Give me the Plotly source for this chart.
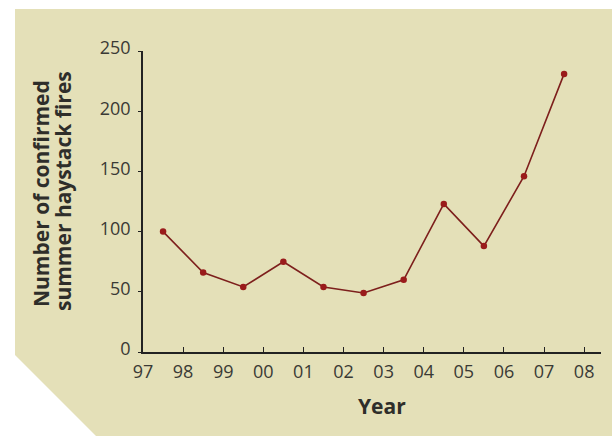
import plotly.graph_objects as go

years = [97.5, 98.5, 99.5, 100.5, 101.5, 102.5, 103.5, 104.5, 105.5, 106.5, 107.5]
fires = [100, 66, 54, 75, 54, 49, 60, 123, 88, 146, 231]
tick_vals = [97, 98, 99, 100, 101, 102, 103, 104, 105, 106, 107, 108]
tick_text = ["97", "98", "99", "00", "01", "02", "03", "04", "05", "06", "07", "08"]
y_ticks = [0, 50, 100, 150, 200, 250]
y_title = ["Number of confirmed", "summer haystack fires"]
x_title = "Year"

W, H = 612, 436
L, R, T, B = 143, 11, 51, 84
pw, ph = W - L - R, H - T - B

def px(x):
    return (x - L) / pw

def py(y):
    return (H - B - y) / ph

panel = [(15, 9), (612, 9), (612, 436), (96, 436), (15, 355)]
path = "M " + " L ".join(f"{px(a):.5f},{py(b):.5f}" for a, b in panel) + " Z"

title_font = dict(family="Open Sans", size=21, color="#2e2e2a")

fig = go.Figure()
fig.add_trace(go.Scatter(
    x=years, y=fires, mode="lines+markers",
    line=dict(color="#7d1f1c", width=1.6),
    marker=dict(color="#9a1b1b", size=6.5),
    showlegend=False, cliponaxis=False,
))

annotations = [
    dict(text=f"<b>{y_title[0]}</b>", xref="paper", yref="paper",
         x=px(41), y=py(194), textangle=-90, showarrow=False,
         xanchor="center", yanchor="middle", font=title_font),
    dict(text=f"<b>{y_title[1]}</b>", xref="paper", yref="paper",
         x=px(62.5), y=py(191.5), textangle=-90, showarrow=False,
         xanchor="center", yanchor="middle", font=title_font),
    dict(text=f"<b>{x_title}</b>", xref="paper", yref="paper",
         x=px(382), y=py(405.5), showarrow=False,
         xanchor="center", yanchor="middle", font=title_font),
]

fig.update_layout(
    width=W, height=H,
    margin=dict(l=L, r=R, t=T, b=B),
    paper_bgcolor="white",
    plot_bgcolor="rgba(0,0,0,0)",
    font=dict(family="Open Sans", color="#3a3a35"),
    shapes=[dict(type="path", path=path, xref="paper", yref="paper",
                 fillcolor="#e4e0b8", line=dict(width=0), layer="below")],
    annotations=annotations,
    xaxis=dict(
        range=[97, 108.42], tickvals=tick_vals, ticktext=tick_text,
        showgrid=False, zeroline=False, showline=True, linecolor="#222",
        linewidth=1.5, ticks="inside", ticklen=5, tickwidth=1.3, tickcolor="#222",
        tickfont=dict(size=18, color="#3a3a35"),
        ticklabelstandoff=3,
    ),
    yaxis=dict(
        range=[0, 250], tickvals=y_ticks,
        showgrid=False, zeroline=False, showline=True, linecolor="#222",
        linewidth=1.5, ticks="outside", ticklen=3, tickwidth=1.3, tickcolor="#222",
        tickfont=dict(size=18, color="#3a3a35"),
        ticklabelshift=-3, ticklabelstandoff=4,
    ),
)

fig.write_html("out.html", config={"displayModeBar": False},
               post_script="document.body.style.margin='0';")
